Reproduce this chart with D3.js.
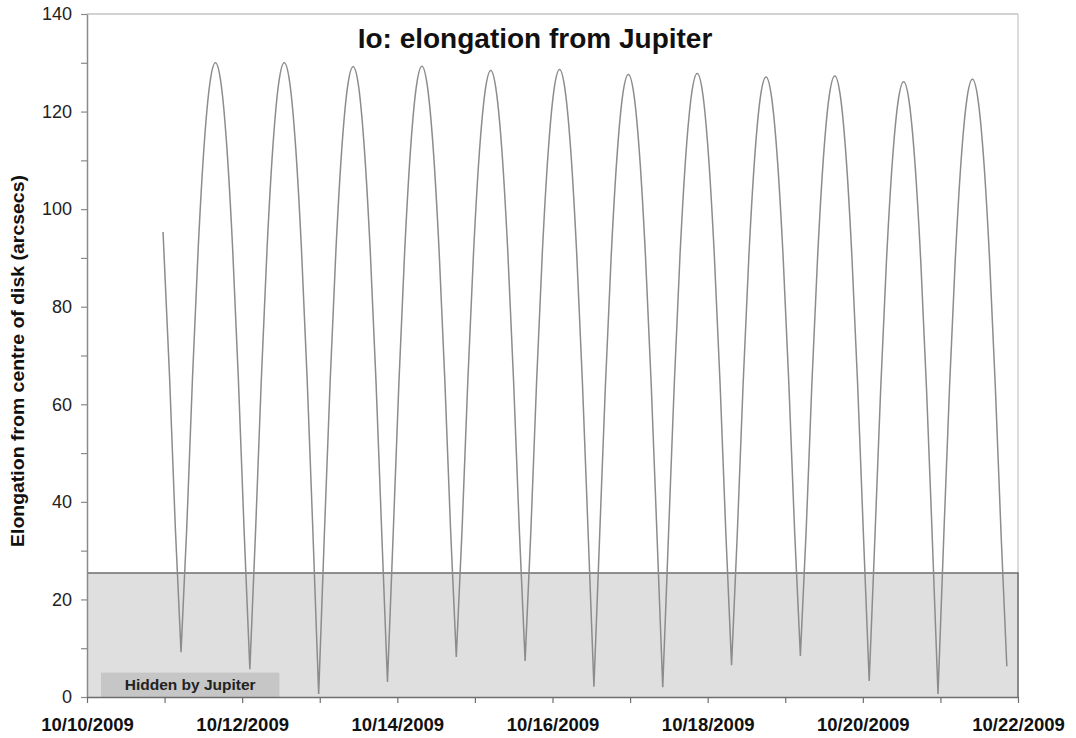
<!DOCTYPE html>
<html>
<head>
<meta charset="utf-8">
<script src="https://cdn.jsdelivr.net/npm/d3@7"></script>
<style>
  html, body { margin: 0; padding: 0; background: #fff; }
  svg { display: block; font-family: "Liberation Sans", Arial, sans-serif; }
</style>
</head>
<body>
<svg id="chart" width="1076" height="738"></svg>
<script>
// Io's apparent distance from the centre of Jupiter's disk, October 2009.
// Time is given in days after 10/10/2009 00:00 UT, elongation in arcseconds.
const dayOffset = [
  0.980, 1.064, 1.138, 1.212,
  1.286, 1.360, 1.434, 1.508, 1.582, 1.655, 1.729, 1.803, 1.877, 1.951, 2.025, 2.099,
  2.173, 2.247, 2.321, 2.395, 2.469, 2.542, 2.616, 2.690, 2.764, 2.838, 2.912, 2.986,
  3.060, 3.134, 3.208, 3.282, 3.356, 3.430, 3.504, 3.577, 3.651, 3.725, 3.799, 3.873,
  3.947, 4.021, 4.095, 4.169, 4.243, 4.317, 4.390, 4.464, 4.538, 4.612, 4.686, 4.760,
  4.834, 4.908, 4.982, 5.056, 5.130, 5.204, 5.277, 5.351, 5.425, 5.499, 5.573, 5.647,
  5.721, 5.795, 5.869, 5.943, 6.017, 6.091, 6.164, 6.238, 6.312, 6.386, 6.460, 6.534,
  6.608, 6.682, 6.756, 6.830, 6.904, 6.978, 7.051, 7.125, 7.199, 7.273, 7.347, 7.421,
  7.495, 7.569, 7.643, 7.717, 7.791, 7.865, 7.938, 8.012, 8.086, 8.160, 8.234, 8.308,
  8.382, 8.456, 8.530, 8.604, 8.678, 8.752, 8.825, 8.899, 8.973, 9.047, 9.121, 9.195,
  9.269, 9.343, 9.417, 9.491, 9.565, 9.639, 9.712, 9.786, 9.860, 9.934, 10.008, 10.082,
  10.156, 10.230, 10.304, 10.378, 10.452, 10.526, 10.599, 10.673, 10.747, 10.821, 10.895, 10.969,
  11.043, 11.117, 11.191, 11.265, 11.339, 11.413, 11.486, 11.560, 11.634, 11.708, 11.782, 11.856
];

const elongation = [
  95.3, 65.7, 34.9, 9.2,
  34.8, 65.5, 92.2, 112.7, 125.6, 130.0, 125.6, 112.6, 92.0, 65.2, 34.1, 5.7,
  34.1, 65.2, 92.0, 112.6, 125.6, 130.0, 125.6, 112.6, 91.9, 65.0, 33.7, 0.6,
  33.5, 64.6, 91.4, 111.9, 124.8, 129.2, 124.8, 111.9, 91.4, 64.7, 33.6, 3.1,
  33.6, 64.7, 91.5, 112.0, 124.9, 129.3, 124.9, 112.1, 91.6, 65.0, 34.4, 8.2,
  34.2, 64.6, 91.0, 111.3, 124.0, 128.4, 124.0, 111.3, 90.9, 64.5, 34.0, 7.4,
  34.0, 64.6, 91.1, 111.4, 124.2, 128.6, 124.2, 111.4, 90.9, 64.3, 33.3, 2.1,
  33.1, 63.8, 90.2, 110.5, 123.3, 127.6, 123.3, 110.5, 90.2, 63.8, 33.1, 2.0,
  33.1, 63.9, 90.4, 110.7, 123.4, 127.8, 123.5, 110.7, 90.5, 64.2, 33.7, 6.5,
  33.5, 63.8, 90.0, 110.1, 122.8, 127.1, 122.8, 110.2, 90.1, 64.0, 33.9, 8.4,
  33.9, 64.1, 90.2, 110.3, 123.0, 127.3, 123.0, 110.3, 90.0, 63.7, 33.1, 3.3,
  32.8, 63.1, 89.2, 109.2, 121.8, 126.1, 121.8, 109.2, 89.2, 63.1, 32.6, 0.6,
  32.8, 63.3, 89.5, 109.6, 122.3, 126.6, 122.3, 109.7, 89.6, 63.5, 33.3, 6.3
];

// Apparent radius of Jupiter's disk: Io is out of sight below this elongation.
const hiddenBelow = 25.4;

const startDate = Date.UTC(2009, 9, 10);
const endDate = Date.UTC(2009, 9, 22);
const yTicks = [0, 10, 20, 30, 40, 50, 60, 70, 80, 90, 100, 110, 120, 130, 140];
const yLabelled = [0, 20, 40, 60, 80, 100, 120, 140];

const titleText = "Io: elongation from Jupiter";
const yTitleText = "Elongation from centre of disk (arcsecs)";
const bandText = "Hidden by Jupiter";

const svg = d3.select("#chart");
const plot = { left: 87, right: 1018, top: 14, bottom: 697 };

const x = d3.scaleUtc()
  .domain([new Date(startDate), new Date(endDate)])
  .range([plot.left, plot.right]);
const y = d3.scaleLinear()
  .domain([0, 140])
  .range([plot.bottom, plot.top]);

const points = dayOffset.map((d, i) => ({
  date: new Date(startDate + d * 864e5),
  value: elongation[i]
}));

// Plot frame (top and right edges)
svg.append("line")
  .attr("x1", plot.left).attr("x2", plot.right)
  .attr("y1", plot.top).attr("y2", plot.top)
  .attr("stroke", "#a6a6a6").attr("stroke-width", 1.2);
svg.append("line")
  .attr("x1", plot.right).attr("x2", plot.right)
  .attr("y1", plot.top).attr("y2", plot.bottom)
  .attr("stroke", "#c4c4c4").attr("stroke-width", 1.2);

// Shaded region where Io is behind / in front of the disk
svg.append("rect")
  .attr("x", plot.left)
  .attr("y", y(hiddenBelow))
  .attr("width", plot.right - plot.left)
  .attr("height", y(0) - y(hiddenBelow))
  .attr("fill", "#dfdfdf");
svg.append("path")
  .attr("d", `M${plot.left},${y(hiddenBelow)}H${plot.right}V${y(0)}`)
  .attr("fill", "none")
  .attr("stroke", "#6e6e6e")
  .attr("stroke-width", 1.5);

// Label box inside the shaded region
const boxX0 = x(new Date(startDate + 0.18 * 864e5));
const boxX1 = x(new Date(startDate + 2.48 * 864e5));
svg.append("rect")
  .attr("x", boxX0)
  .attr("y", y(5))
  .attr("width", boxX1 - boxX0)
  .attr("height", y(0) - y(5))
  .attr("fill", "#c6c6c6");
svg.append("text")
  .attr("x", (boxX0 + boxX1) / 2)
  .attr("y", y(5) + 17)
  .attr("text-anchor", "middle")
  .attr("font-size", 15.5)
  .attr("font-weight", "bold")
  .attr("fill", "#222")
  .text(bandText);

// Elongation curve: each orbit half (closest approach to closest approach)
// is smoothed on its own, so the turning points near the disk stay sharp.
const breaks = [0];
for (let i = 1; i < points.length - 1; i++) {
  if (points[i].value < points[i - 1].value && points[i].value < points[i + 1].value) breaks.push(i);
}
breaks.push(points.length - 1);
const pieces = d3.pairs(breaks).map(([a, b]) => points.slice(a, b + 1));

const line = d3.line()
  .x(d => x(d.date))
  .y(d => y(d.value))
  .curve(d3.curveMonotoneX);
svg.append("path")
  .attr("d", pieces.map(p => line(p)).join(""))
  .attr("fill", "none")
  .attr("stroke", "#8c8c8c")
  .attr("stroke-width", 1.5)
  .attr("stroke-linejoin", "round");

// Y axis
const yAxis = d3.axisLeft(y)
  .tickValues(yTicks)
  .tickSize(6)
  .tickSizeOuter(0)
  .tickPadding(9)
  .tickFormat(d => yLabelled.includes(d) ? d : "");
const gy = svg.append("g")
  .attr("transform", `translate(${plot.left},0)`)
  .call(yAxis);
gy.select(".domain").attr("stroke", "#8a8a8a").attr("stroke-width", 1.5);
gy.selectAll(".tick line").attr("stroke", "#8a8a8a").attr("stroke-width", 1.2);
gy.selectAll(".tick text")
  .attr("font-size", 18)
  .attr("font-family", "Liberation Sans, Arial, sans-serif")
  .attr("fill", "#222");

// X axis: a tick every day, a date label every second day
const fmt = d3.utcFormat("%m/%d/%Y");
const xAxis = d3.axisBottom(x)
  .ticks(d3.utcDay.every(1))
  .tickSize(6)
  .tickSizeOuter(0)
  .tickPadding(15)
  .tickFormat((d, i) => i % 2 === 0 ? fmt(d) : "");
const gx = svg.append("g")
  .attr("transform", `translate(0,${plot.bottom})`)
  .call(xAxis);
gx.select(".domain").attr("stroke", "#6e6e6e").attr("stroke-width", 1.5);
gx.selectAll(".tick line").attr("stroke", "#6e6e6e").attr("stroke-width", 1.2);
gx.selectAll(".tick text")
  .attr("font-size", 18.5)
  .attr("font-weight", "bold")
  .attr("font-family", "Liberation Sans, Arial, sans-serif")
  .attr("fill", "#111");

// Title
svg.append("text")
  .attr("x", 535)
  .attr("y", 48)
  .attr("text-anchor", "middle")
  .attr("font-size", 28)
  .attr("font-weight", "bold")
  .attr("fill", "#111")
  .text(titleText);

// Y axis title
svg.append("text")
  .attr("transform", "translate(24,361) rotate(-90)")
  .attr("text-anchor", "middle")
  .attr("font-size", 18)
  .attr("font-weight", "bold")
  .attr("textLength", 372)
  .attr("lengthAdjust", "spacingAndGlyphs")
  .attr("fill", "#111")
  .text(yTitleText);
</script>
</body>
</html>
